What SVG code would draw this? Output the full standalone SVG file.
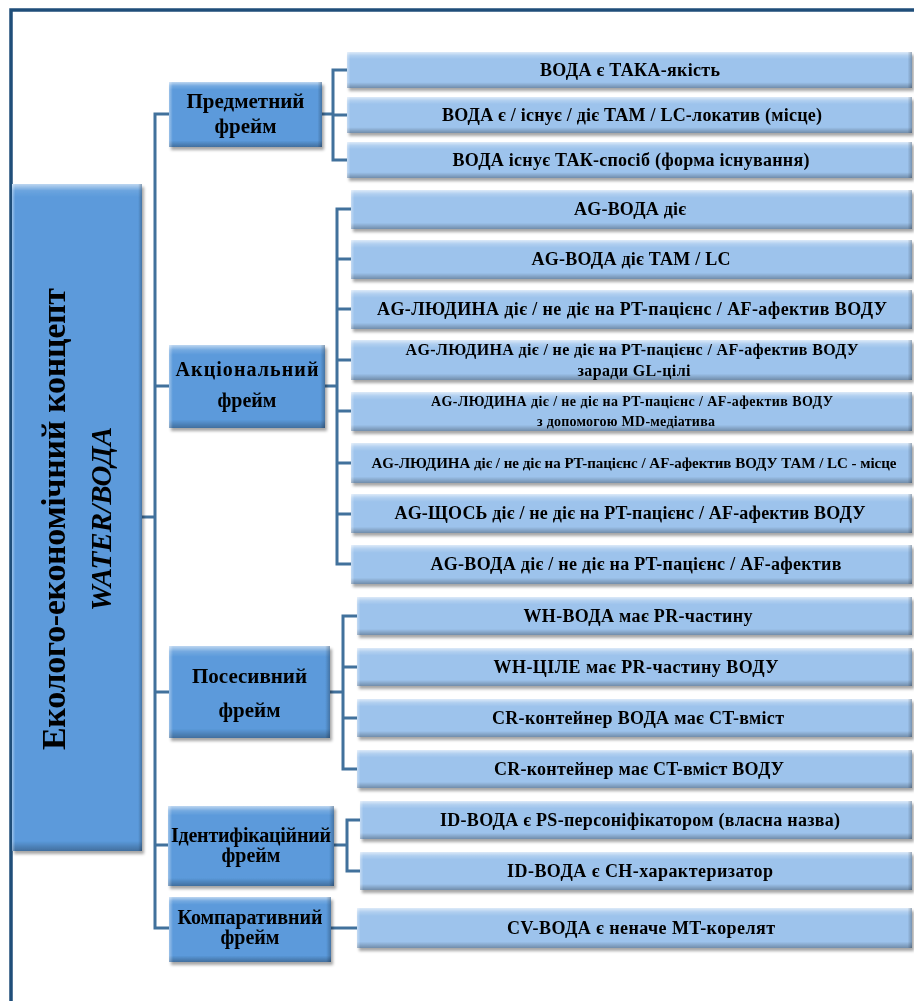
<svg xmlns="http://www.w3.org/2000/svg" width="914" height="1001" viewBox="0 0 914 1001">
<defs>
<filter id="sh" x="-5%" y="-20%" width="112%" height="150%">
<feDropShadow dx="2" dy="3" stdDeviation="1.8" flood-color="#000" flood-opacity="0.35"/>
</filter>
<linearGradient id="vb" x1="0" y1="0" x2="0" y2="1">
<stop offset="0" stop-color="#fff" stop-opacity="0.65"/>
<stop offset="0.1" stop-color="#fff" stop-opacity="0.2"/>
<stop offset="0.2" stop-color="#fff" stop-opacity="0"/>
<stop offset="0.84" stop-color="#000" stop-opacity="0"/>
<stop offset="1" stop-color="#000" stop-opacity="0.28"/>
</linearGradient>
<linearGradient id="vbf" x1="0" y1="0" x2="0" y2="1">
<stop offset="0" stop-color="#fff" stop-opacity="0.6"/>
<stop offset="0.06" stop-color="#fff" stop-opacity="0.15"/>
<stop offset="0.12" stop-color="#fff" stop-opacity="0"/>
<stop offset="0.9" stop-color="#000" stop-opacity="0"/>
<stop offset="1" stop-color="#000" stop-opacity="0.28"/>
</linearGradient>
<linearGradient id="vbm" x1="0" y1="0" x2="0" y2="1">
<stop offset="0" stop-color="#fff" stop-opacity="0.6"/>
<stop offset="0.01" stop-color="#fff" stop-opacity="0.1"/>
<stop offset="0.02" stop-color="#fff" stop-opacity="0"/>
<stop offset="0.985" stop-color="#000" stop-opacity="0"/>
<stop offset="1" stop-color="#000" stop-opacity="0.28"/>
</linearGradient>
<linearGradient id="hbl" x1="0" y1="0" x2="1" y2="0">
<stop offset="0" stop-color="#fff" stop-opacity="0.4"/>
<stop offset="0.006" stop-color="#fff" stop-opacity="0"/>
<stop offset="0.992" stop-color="#000" stop-opacity="0"/>
<stop offset="1" stop-color="#000" stop-opacity="0.25"/>
</linearGradient>
<linearGradient id="hbf" x1="0" y1="0" x2="1" y2="0">
<stop offset="0" stop-color="#fff" stop-opacity="0.4"/>
<stop offset="0.025" stop-color="#fff" stop-opacity="0"/>
<stop offset="0.97" stop-color="#000" stop-opacity="0"/>
<stop offset="1" stop-color="#000" stop-opacity="0.25"/>
</linearGradient>
</defs>
<style>
.leaf{fill:#9DC3EC}
.frame{fill:#5B9ADB}
.bl{fill:url(#vb)}
.hl{fill:url(#hbl)}
.bf{fill:url(#vbf)}
.hf{fill:url(#hbf)}
.bm{fill:url(#vbm)}
.t{font-family:"Liberation Serif","Times New Roman",serif;font-weight:bold;fill:#000;text-anchor:middle}
.s18{font-size:18px}
.con{fill:none;stroke:#41719C;stroke-width:3}
</style>
<rect width="914" height="1001" fill="#fff"/>
<path d="M11 1001 V10 H914" fill="none" stroke="#1F4E79" stroke-width="3.5"/>

<g id="connectors" class="con">
<path d="M142 517 H155"/>
<path d="M169 114 H155 V928 H169"/>
<path d="M155 386 H169 M155 692 H169 M155 845 H169"/>
<path d="M322 114 H333 M347 70 H333 V160 H347 M333 115 H347"/>
<path d="M325 386 H337 M351 209 H337 V564 H351 M337 259 H351 M337 309 H351 M337 360 H351 M337 411 H351 M337 463 H351 M337 514 H351"/>
<path d="M330 692 H343 M357 616 H343 V769 H357 M343 667 H357 M343 718 H357"/>
<path d="M334 845 H347 M360 820 H347 V871 H360"/>
<path d="M331 928 H357"/>
</g>

<g id="root" filter="url(#sh)">
<rect class="frame" x="12" y="184" width="130" height="667"/>
<rect class="bm" x="12" y="184" width="130" height="667"/>
<rect class="hf" x="12" y="184" width="130" height="667"/>
<text class="t" font-size="34" transform="translate(65,519) rotate(-90)" textLength="462">Еколого-економічний концепт</text>
<text class="t" font-size="29" font-style="italic" transform="translate(111,519) rotate(-90)" textLength="184">WATER/ВОДА</text>
</g>

<g id="frame-predmetnyi" filter="url(#sh)">
<rect class="frame" x="169" y="82" width="153" height="65"/>
<rect class="bf" x="169" y="82" width="153" height="65"/>
<rect class="hf" x="169" y="82" width="153" height="65"/>
<text class="t" font-size="21" x="245.5" y="108">Предметний</text>
<text class="t" font-size="21" x="245.5" y="133">фрейм</text>
</g>
<g id="frame-aktsionalnyi" filter="url(#sh)">
<rect class="frame" x="169" y="345" width="156" height="83"/>
<rect class="bf" x="169" y="345" width="156" height="83"/>
<rect class="hf" x="169" y="345" width="156" height="83"/>
<text class="t" font-size="20" x="247" y="376" textLength="143">Акціональний</text>
<text class="t" font-size="20" x="247" y="407">фрейм</text>
</g>
<g id="frame-posesyvnyi" filter="url(#sh)">
<rect class="frame" x="169" y="646" width="161" height="92"/>
<rect class="bf" x="169" y="646" width="161" height="92"/>
<rect class="hf" x="169" y="646" width="161" height="92"/>
<text class="t" font-size="21" x="249.5" y="683">Посесивний</text>
<text class="t" font-size="21" x="249.5" y="717">фрейм</text>
</g>
<g id="frame-identyfikatsiinyi" filter="url(#sh)">
<rect class="frame" x="168" y="806" width="166" height="80"/>
<rect class="bf" x="168" y="806" width="166" height="80"/>
<rect class="hf" x="168" y="806" width="166" height="80"/>
<text class="t" font-size="20" x="251" y="842" textLength="160">Ідентифікаційний</text>
<text class="t" font-size="20" x="251" y="862">фрейм</text>
</g>
<g id="frame-komparatyvnyi" filter="url(#sh)">
<rect class="frame" x="169" y="897" width="162" height="65"/>
<rect class="bf" x="169" y="897" width="162" height="65"/>
<rect class="hf" x="169" y="897" width="162" height="65"/>
<text class="t" font-size="20" x="250" y="924" textLength="145">Компаративний</text>
<text class="t" font-size="20" x="250" y="944">фрейм</text>
</g>

<g id="leaf-1-1" filter="url(#sh)">
<rect class="leaf" x="347" y="52" width="565" height="36"/><rect class="bl" x="347" y="52" width="565" height="36"/><rect class="hl" x="347" y="52" width="565" height="36"/>
<text class="t s18" x="630" y="76" textLength="180">ВОДА є ТАКА-якість</text>
</g>
<g id="leaf-1-2" filter="url(#sh)">
<rect class="leaf" x="347" y="97" width="565" height="36"/><rect class="bl" x="347" y="97" width="565" height="36"/><rect class="hl" x="347" y="97" width="565" height="36"/>
<text class="t s18" x="632" y="121" textLength="380">ВОДА є / існує / діє ТАМ / LC-локатив (місце)</text>
</g>
<g id="leaf-1-3" filter="url(#sh)">
<rect class="leaf" x="347" y="142" width="565" height="36"/><rect class="bl" x="347" y="142" width="565" height="36"/><rect class="hl" x="347" y="142" width="565" height="36"/>
<text class="t s18" x="631" y="166" textLength="357">ВОДА існує ТАК-спосіб (форма існування)</text>
</g>

<g id="leaf-2-1" filter="url(#sh)">
<rect class="leaf" x="351" y="190" width="561" height="39"/><rect class="bl" x="351" y="190" width="561" height="39"/><rect class="hl" x="351" y="190" width="561" height="39"/>
<text class="t s18" x="630" y="215" textLength="112">AG-ВОДА діє</text>
</g>
<g id="leaf-2-2" filter="url(#sh)">
<rect class="leaf" x="351" y="240" width="561" height="39"/><rect class="bl" x="351" y="240" width="561" height="39"/><rect class="hl" x="351" y="240" width="561" height="39"/>
<text class="t s18" x="631" y="265" textLength="199">AG-ВОДА діє ТАМ / LC</text>
</g>
<g id="leaf-2-3" filter="url(#sh)">
<rect class="leaf" x="351" y="290" width="561" height="39"/><rect class="bl" x="351" y="290" width="561" height="39"/><rect class="hl" x="351" y="290" width="561" height="39"/>
<text class="t s18" x="632" y="315" textLength="510">AG-ЛЮДИНА діє / не діє на PT-пацієнс / AF-афектив ВОДУ</text>
</g>
<g id="leaf-2-4" filter="url(#sh)">
<rect class="leaf" x="351" y="340" width="561" height="40"/><rect class="bl" x="351" y="340" width="561" height="40"/><rect class="hl" x="351" y="340" width="561" height="40"/>
<text class="t" font-size="16" x="632" y="355" textLength="453">AG-ЛЮДИНА діє / не діє на PT-пацієнс / AF-афектив ВОДУ</text>
<text class="t" font-size="16" x="634" y="376" textLength="113">заради GL-цілі</text>
</g>
<g id="leaf-2-5" filter="url(#sh)">
<rect class="leaf" x="351" y="392" width="561" height="39"/><rect class="bl" x="351" y="392" width="561" height="39"/><rect class="hl" x="351" y="392" width="561" height="39"/>
<text class="t" font-size="14" x="632" y="406" textLength="402">AG-ЛЮДИНА діє / не діє на PT-пацієнс / AF-афектив ВОДУ</text>
<text class="t" font-size="14" x="626" y="426" textLength="178">з допомогою MD-медіатива</text>
</g>
<g id="leaf-2-6" filter="url(#sh)">
<rect class="leaf" x="351" y="443" width="561" height="40"/><rect class="bl" x="351" y="443" width="561" height="40"/><rect class="hl" x="351" y="443" width="561" height="40"/>
<text class="t" font-size="15" x="634" y="468" textLength="525">AG-ЛЮДИНА діє / не діє на PT-пацієнс / AF-афектив ВОДУ ТАМ / LC - місце</text>
</g>
<g id="leaf-2-7" filter="url(#sh)">
<rect class="leaf" x="351" y="494" width="561" height="39"/><rect class="bl" x="351" y="494" width="561" height="39"/><rect class="hl" x="351" y="494" width="561" height="39"/>
<text class="t s18" x="630" y="519" textLength="471">AG-ЩОСЬ діє / не діє на PT-пацієнс / AF-афектив ВОДУ</text>
</g>
<g id="leaf-2-8" filter="url(#sh)">
<rect class="leaf" x="351" y="545" width="561" height="39"/><rect class="bl" x="351" y="545" width="561" height="39"/><rect class="hl" x="351" y="545" width="561" height="39"/>
<text class="t s18" x="636" y="570" textLength="411">AG-ВОДА діє / не діє на PT-пацієнс / AF-афектив</text>
</g>

<g id="leaf-3-1" filter="url(#sh)">
<rect class="leaf" x="357" y="597" width="555" height="38"/><rect class="bl" x="357" y="597" width="555" height="38"/><rect class="hl" x="357" y="597" width="555" height="38"/>
<text class="t s18" x="638" y="622" textLength="229">WH-ВОДА має PR-частину</text>
</g>
<g id="leaf-3-2" filter="url(#sh)">
<rect class="leaf" x="357" y="648" width="555" height="38"/><rect class="bl" x="357" y="648" width="555" height="38"/><rect class="hl" x="357" y="648" width="555" height="38"/>
<text class="t s18" x="636" y="673" textLength="285">WH-ЦІЛЕ має PR-частину ВОДУ</text>
</g>
<g id="leaf-3-3" filter="url(#sh)">
<rect class="leaf" x="357" y="699" width="555" height="38"/><rect class="bl" x="357" y="699" width="555" height="38"/><rect class="hl" x="357" y="699" width="555" height="38"/>
<text class="t s18" x="638" y="724" textLength="292">CR-контейнер ВОДА має CT-вміст</text>
</g>
<g id="leaf-3-4" filter="url(#sh)">
<rect class="leaf" x="357" y="750" width="555" height="38"/><rect class="bl" x="357" y="750" width="555" height="38"/><rect class="hl" x="357" y="750" width="555" height="38"/>
<text class="t s18" x="639" y="775" textLength="290">CR-контейнер має CT-вміст ВОДУ</text>
</g>

<g id="leaf-4-1" filter="url(#sh)">
<rect class="leaf" x="360" y="801" width="552" height="38"/><rect class="bl" x="360" y="801" width="552" height="38"/><rect class="hl" x="360" y="801" width="552" height="38"/>
<text class="t s18" x="640" y="826" textLength="400">ID-ВОДА є PS-персоніфікатором (власна назва)</text>
</g>
<g id="leaf-4-2" filter="url(#sh)">
<rect class="leaf" x="360" y="852" width="552" height="38"/><rect class="bl" x="360" y="852" width="552" height="38"/><rect class="hl" x="360" y="852" width="552" height="38"/>
<text class="t s18" x="640" y="877" textLength="266">ID-ВОДА є CH-характеризатор</text>
</g>

<g id="leaf-5-1" filter="url(#sh)">
<rect class="leaf" x="357" y="908" width="555" height="40"/><rect class="bl" x="357" y="908" width="555" height="40"/><rect class="hl" x="357" y="908" width="555" height="40"/>
<text class="t s18" x="641" y="934" textLength="268">CV-ВОДА є неначе MT-корелят</text>
</g>
</svg>
